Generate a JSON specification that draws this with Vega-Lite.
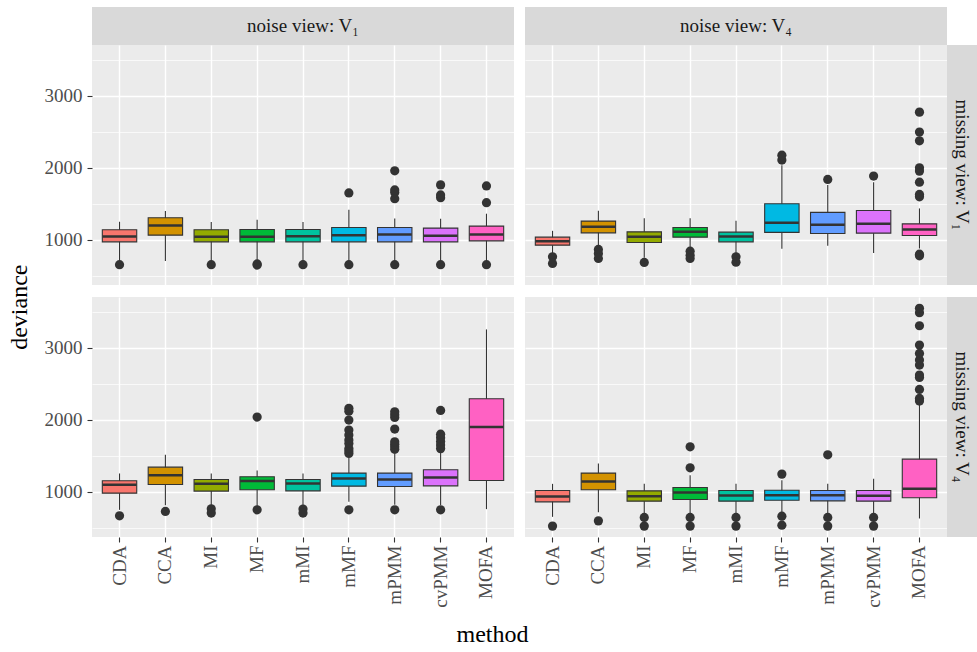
{
"$schema": "https://vega.github.io/schema/vega-lite/v6.json",
"padding": {"left": 8, "top": 7, "right": 0, "bottom": 5},
"background": "white",
"datasets": {
"boxes": [
{"noise":"V1","missing":"V1","method":"CDA","wlo":700,"q1":972,"med":1046,"q3":1140,"whi":1251},
{"noise":"V1","missing":"V1","method":"CCA","wlo":707,"q1":1065,"med":1200,"q3":1307,"whi":1400},
{"noise":"V1","missing":"V1","method":"MI","wlo":700,"q1":972,"med":1042,"q3":1140,"whi":1247},
{"noise":"V1","missing":"V1","method":"MF","wlo":700,"q1":972,"med":1042,"q3":1144,"whi":1279},
{"noise":"V1","missing":"V1","method":"mMI","wlo":700,"q1":972,"med":1051,"q3":1144,"whi":1247},
{"noise":"V1","missing":"V1","method":"mMF","wlo":700,"q1":972,"med":1065,"q3":1172,"whi":1418},
{"noise":"V1","missing":"V1","method":"mPMM","wlo":700,"q1":972,"med":1074,"q3":1172,"whi":1297},
{"noise":"V1","missing":"V1","method":"cvPMM","wlo":700,"q1":972,"med":1056,"q3":1163,"whi":1293},
{"noise":"V1","missing":"V1","method":"MOFA","wlo":700,"q1":986,"med":1074,"q3":1191,"whi":1363},
{"noise":"V4","missing":"V1","method":"CDA","wlo":810,"q1":926,"med":982,"q3":1037,"whi":1125},
{"noise":"V4","missing":"V1","method":"CCA","wlo":900,"q1":1097,"med":1181,"q3":1260,"whi":1403},
{"noise":"V4","missing":"V1","method":"MI","wlo":750,"q1":964,"med":1042,"q3":1111,"whi":1301},
{"noise":"V4","missing":"V1","method":"MF","wlo":880,"q1":1037,"med":1111,"q3":1172,"whi":1301},
{"noise":"V4","missing":"V1","method":"mMI","wlo":810,"q1":972,"med":1047,"q3":1107,"whi":1264},
{"noise":"V4","missing":"V1","method":"mMF","wlo":875,"q1":1103,"med":1236,"q3":1500,"whi":2037},
{"noise":"V4","missing":"V1","method":"mPMM","wlo":917,"q1":1089,"med":1208,"q3":1381,"whi":1760},
{"noise":"V4","missing":"V1","method":"cvPMM","wlo":819,"q1":1093,"med":1222,"q3":1408,"whi":1801},
{"noise":"V4","missing":"V1","method":"MOFA","wlo":880,"q1":1061,"med":1144,"q3":1222,"whi":1436},
{"noise":"V1","missing":"V4","method":"CDA","wlo":750,"q1":982,"med":1098,"q3":1153,"whi":1255},
{"noise":"V1","missing":"V4","method":"CCA","wlo":815,"q1":1102,"med":1232,"q3":1343,"whi":1514},
{"noise":"V1","missing":"V4","method":"MI","wlo":815,"q1":1010,"med":1111,"q3":1172,"whi":1255},
{"noise":"V1","missing":"V4","method":"MF","wlo":800,"q1":1028,"med":1149,"q3":1209,"whi":1297},
{"noise":"V1","missing":"V4","method":"mMI","wlo":815,"q1":1014,"med":1116,"q3":1172,"whi":1255},
{"noise":"V1","missing":"V4","method":"mMF","wlo":861,"q1":1079,"med":1186,"q3":1260,"whi":1478},
{"noise":"V1","missing":"V4","method":"mPMM","wlo":820,"q1":1075,"med":1172,"q3":1260,"whi":1530},
{"noise":"V1","missing":"V4","method":"cvPMM","wlo":815,"q1":1083,"med":1200,"q3":1306,"whi":1540},
{"noise":"V1","missing":"V4","method":"MOFA","wlo":760,"q1":1158,"med":1899,"q3":2292,"whi":3255},
{"noise":"V4","missing":"V4","method":"CDA","wlo":653,"q1":861,"med":936,"q3":1019,"whi":1111},
{"noise":"V4","missing":"V4","method":"CCA","wlo":718,"q1":1028,"med":1144,"q3":1260,"whi":1394},
{"noise":"V4","missing":"V4","method":"MI","wlo":700,"q1":871,"med":940,"q3":1014,"whi":1111},
{"noise":"V4","missing":"V4","method":"MF","wlo":700,"q1":894,"med":991,"q3":1061,"whi":1232},
{"noise":"V4","missing":"V4","method":"mMI","wlo":700,"q1":871,"med":949,"q3":1019,"whi":1111},
{"noise":"V4","missing":"V4","method":"mMF","wlo":700,"q1":884,"med":954,"q3":1023,"whi":1162},
{"noise":"V4","missing":"V4","method":"mPMM","wlo":700,"q1":875,"med":954,"q3":1019,"whi":1111},
{"noise":"V4","missing":"V4","method":"cvPMM","wlo":700,"q1":871,"med":944,"q3":1019,"whi":1181},
{"noise":"V4","missing":"V4","method":"MOFA","wlo":630,"q1":917,"med":1042,"q3":1454,"whi":2228}
],
"outliers": [
{"noise":"V1","missing":"V1","method":"CDA","value":655},
{"noise":"V1","missing":"V1","method":"MI","value":655},
{"noise":"V1","missing":"V1","method":"MF","value":650},
{"noise":"V1","missing":"V1","method":"MF","value":665},
{"noise":"V1","missing":"V1","method":"mMI","value":655},
{"noise":"V1","missing":"V1","method":"mMF","value":655},
{"noise":"V1","missing":"V1","method":"mMF","value":1651},
{"noise":"V1","missing":"V1","method":"mPMM","value":655},
{"noise":"V1","missing":"V1","method":"mPMM","value":1572},
{"noise":"V1","missing":"V1","method":"mPMM","value":1656},
{"noise":"V1","missing":"V1","method":"mPMM","value":1693},
{"noise":"V1","missing":"V1","method":"mPMM","value":1958},
{"noise":"V1","missing":"V1","method":"cvPMM","value":655},
{"noise":"V1","missing":"V1","method":"cvPMM","value":1586},
{"noise":"V1","missing":"V1","method":"cvPMM","value":1623},
{"noise":"V1","missing":"V1","method":"cvPMM","value":1763},
{"noise":"V1","missing":"V1","method":"MOFA","value":655},
{"noise":"V1","missing":"V1","method":"MOFA","value":1516},
{"noise":"V1","missing":"V1","method":"MOFA","value":1749},
{"noise":"V4","missing":"V1","method":"CDA","value":764},
{"noise":"V4","missing":"V1","method":"CDA","value":672},
{"noise":"V4","missing":"V1","method":"CCA","value":867},
{"noise":"V4","missing":"V1","method":"CCA","value":811},
{"noise":"V4","missing":"V1","method":"CCA","value":742},
{"noise":"V4","missing":"V1","method":"MI","value":686},
{"noise":"V4","missing":"V1","method":"MF","value":843},
{"noise":"V4","missing":"V1","method":"MF","value":787},
{"noise":"V4","missing":"V1","method":"MF","value":742},
{"noise":"V4","missing":"V1","method":"mMI","value":764},
{"noise":"V4","missing":"V1","method":"mMI","value":690},
{"noise":"V4","missing":"V1","method":"mMF","value":2107},
{"noise":"V4","missing":"V1","method":"mMF","value":2175},
{"noise":"V4","missing":"V1","method":"mPMM","value":1839},
{"noise":"V4","missing":"V1","method":"cvPMM","value":1885},
{"noise":"V4","missing":"V1","method":"MOFA","value":801},
{"noise":"V4","missing":"V1","method":"MOFA","value":778},
{"noise":"V4","missing":"V1","method":"MOFA","value":1597},
{"noise":"V4","missing":"V1","method":"MOFA","value":1631},
{"noise":"V4","missing":"V1","method":"MOFA","value":1801},
{"noise":"V4","missing":"V1","method":"MOFA","value":1954},
{"noise":"V4","missing":"V1","method":"MOFA","value":2000},
{"noise":"V4","missing":"V1","method":"MOFA","value":2375},
{"noise":"V4","missing":"V1","method":"MOFA","value":2496},
{"noise":"V4","missing":"V1","method":"MOFA","value":2773},
{"noise":"V1","missing":"V4","method":"CDA","value":667},
{"noise":"V1","missing":"V4","method":"CCA","value":728},
{"noise":"V1","missing":"V4","method":"MI","value":765},
{"noise":"V1","missing":"V4","method":"MI","value":705},
{"noise":"V1","missing":"V4","method":"MF","value":2038},
{"noise":"V1","missing":"V4","method":"MF","value":750},
{"noise":"V1","missing":"V4","method":"mMI","value":760},
{"noise":"V1","missing":"V4","method":"mMI","value":705},
{"noise":"V1","missing":"V4","method":"mMF","value":750},
{"noise":"V1","missing":"V4","method":"mMF","value":1533},
{"noise":"V1","missing":"V4","method":"mMF","value":1568},
{"noise":"V1","missing":"V4","method":"mMF","value":1603},
{"noise":"V1","missing":"V4","method":"mMF","value":1672},
{"noise":"V1","missing":"V4","method":"mMF","value":1720},
{"noise":"V1","missing":"V4","method":"mMF","value":1788},
{"noise":"V1","missing":"V4","method":"mMF","value":1857},
{"noise":"V1","missing":"V4","method":"mMF","value":1996},
{"noise":"V1","missing":"V4","method":"mMF","value":2120},
{"noise":"V1","missing":"V4","method":"mMF","value":2160},
{"noise":"V1","missing":"V4","method":"mPMM","value":750},
{"noise":"V1","missing":"V4","method":"mPMM","value":1590},
{"noise":"V1","missing":"V4","method":"mPMM","value":1625},
{"noise":"V1","missing":"V4","method":"mPMM","value":1660},
{"noise":"V1","missing":"V4","method":"mPMM","value":1695},
{"noise":"V1","missing":"V4","method":"mPMM","value":1871},
{"noise":"V1","missing":"V4","method":"mPMM","value":2033},
{"noise":"V1","missing":"V4","method":"mPMM","value":2070},
{"noise":"V1","missing":"V4","method":"mPMM","value":2111},
{"noise":"V1","missing":"V4","method":"cvPMM","value":750},
{"noise":"V1","missing":"V4","method":"cvPMM","value":1600},
{"noise":"V1","missing":"V4","method":"cvPMM","value":1650},
{"noise":"V1","missing":"V4","method":"cvPMM","value":1700},
{"noise":"V1","missing":"V4","method":"cvPMM","value":1750},
{"noise":"V1","missing":"V4","method":"cvPMM","value":1800},
{"noise":"V1","missing":"V4","method":"cvPMM","value":2130},
{"noise":"V4","missing":"V4","method":"CDA","value":524},
{"noise":"V4","missing":"V4","method":"CCA","value":597},
{"noise":"V4","missing":"V4","method":"MI","value":644},
{"noise":"V4","missing":"V4","method":"MI","value":524},
{"noise":"V4","missing":"V4","method":"MF","value":1625},
{"noise":"V4","missing":"V4","method":"MF","value":1333},
{"noise":"V4","missing":"V4","method":"MF","value":644},
{"noise":"V4","missing":"V4","method":"MF","value":524},
{"noise":"V4","missing":"V4","method":"mMI","value":644},
{"noise":"V4","missing":"V4","method":"mMI","value":524},
{"noise":"V4","missing":"V4","method":"mMF","value":1246},
{"noise":"V4","missing":"V4","method":"mMF","value":662},
{"noise":"V4","missing":"V4","method":"mMF","value":537},
{"noise":"V4","missing":"V4","method":"mPMM","value":1514},
{"noise":"V4","missing":"V4","method":"mPMM","value":644},
{"noise":"V4","missing":"V4","method":"mPMM","value":524},
{"noise":"V4","missing":"V4","method":"cvPMM","value":644},
{"noise":"V4","missing":"V4","method":"cvPMM","value":524},
{"noise":"V4","missing":"V4","method":"MOFA","value":2260},
{"noise":"V4","missing":"V4","method":"MOFA","value":2297},
{"noise":"V4","missing":"V4","method":"MOFA","value":2422},
{"noise":"V4","missing":"V4","method":"MOFA","value":2589},
{"noise":"V4","missing":"V4","method":"MOFA","value":2621},
{"noise":"V4","missing":"V4","method":"MOFA","value":2760},
{"noise":"V4","missing":"V4","method":"MOFA","value":2829},
{"noise":"V4","missing":"V4","method":"MOFA","value":2922},
{"noise":"V4","missing":"V4","method":"MOFA","value":3038},
{"noise":"V4","missing":"V4","method":"MOFA","value":3306},
{"noise":"V4","missing":"V4","method":"MOFA","value":3487},
{"noise":"V4","missing":"V4","method":"MOFA","value":3548}
]
},
"title": {"text": "method", "orient": "bottom", "anchor": "middle", "offset": 16},
"vconcat": [
{
"title": {"text": "deviance", "orient": "left", "anchor": "middle", "offset": 12},
"columns": 4,
"spacing": {"row": 0, "column": 0},
"align": "each",
"bounds": "flush",
"concat": [
{"width": 422, "height": 38, "data": {"values": [{"label": "noise view: V₁"}]}, "view": {"fill": "#D9D9D9"}, "mark": {"type": "text", "fontSize": 19, "color": "#1A1A1A", "font": "Liberation Serif"}, "encoding": {"text": {"field": "label"}}},
{"width": 11, "height": 38, "data": {"values": [{}]}, "mark": "text", "encoding": {"text": {"value": ""}}},
{"width": 422, "height": 38, "data": {"values": [{"label": "noise view: V₄"}]}, "view": {"fill": "#D9D9D9"}, "mark": {"type": "text", "fontSize": 19, "color": "#1A1A1A", "font": "Liberation Serif"}, "encoding": {"text": {"field": "label"}}},
{"width": 30, "height": 38, "data": {"values": [{}]}, "mark": "text", "encoding": {"text": {"value": ""}}},

{"width": 422, "height": 240, "view": {"fill": "#EBEBEB"},
 "encoding": {"x": {"field": "method", "type": "nominal", "title": null, "scale": {"type": "band", "domain": ["CDA","CCA","MI","MF","mMI","mMF","mPMM","cvPMM","MOFA"], "paddingInner": 0.25, "paddingOuter": 0.225}, "axis": {"labels": false, "ticks": false, "domain": false, "grid": true, "gridColor": "#FFFFFF", "gridWidth": 1.4, "bandPosition": 0.5}}},
 "resolve": {"axis": {"y": "independent"}},
 "layer": [
  {"data": {"name": "boxes"}, "transform": [{"filter": "datum.noise == 'V1' && datum.missing == 'V1'"}], "mark": {"type": "rule", "color": "#333333", "strokeWidth": 1.1},
   "encoding": {"y": {"field": "wlo", "type": "quantitative", "title": null, "scale": {"domain": [373, 3705], "nice": false, "zero": false}, "axis": {"orient": "left", "values": [500,1500,2500,3500], "labels": false, "ticks": false, "domain": false, "grid": true, "gridColor": "#FFFFFF", "gridWidth": 0.7, "minExtent": 0, "maxExtent": 0}}, "y2": {"field": "whi"}}},
  {"data": {"name": "boxes"}, "transform": [{"filter": "datum.noise == 'V1' && datum.missing == 'V1'"}], "mark": {"type": "bar", "stroke": "#333333", "strokeWidth": 1.1},
   "encoding": {"y": {"field": "q1", "type": "quantitative", "title": null, "axis": {"orient": "left", "values": [1000,2000,3000], "format": "d", "domain": false, "grid": true, "gridColor": "#FFFFFF", "gridWidth": 1.4, "tickSize": 5, "labelPadding": 5}}, "y2": {"field": "q3"}, "fill": {"field": "method", "type": "nominal", "scale": {"domain": ["CDA","CCA","MI","MF","mMI","mMF","mPMM","cvPMM","MOFA"], "range": ["#F8766D","#D39200","#93AA00","#00BA38","#00C19F","#00B9E3","#619CFF","#DB72FB","#FF61C3"]}, "legend": null}}},
  {"data": {"name": "boxes"}, "transform": [{"filter": "datum.noise == 'V1' && datum.missing == 'V1'"}], "mark": {"type": "tick", "color": "#333333", "size": 34, "thickness": 2.5, "opacity": 1},
   "encoding": {"y": {"field": "med", "type": "quantitative", "title": null, "axis": null}}},
  {"data": {"name": "outliers"}, "transform": [{"filter": "datum.noise == 'V1' && datum.missing == 'V1'"}], "mark": {"type": "point", "filled": true, "color": "#333333", "size": 85, "opacity": 1},
   "encoding": {"y": {"field": "value", "type": "quantitative", "title": null, "axis": null}}}
 ]},
{"width": 11, "height": 240, "data": {"values": [{}]}, "mark": "text", "encoding": {"text": {"value": ""}}},
{"width": 422, "height": 240, "view": {"fill": "#EBEBEB"},
 "encoding": {"x": {"field": "method", "type": "nominal", "title": null, "scale": {"type": "band", "domain": ["CDA","CCA","MI","MF","mMI","mMF","mPMM","cvPMM","MOFA"], "paddingInner": 0.25, "paddingOuter": 0.225}, "axis": {"labels": false, "ticks": false, "domain": false, "grid": true, "gridColor": "#FFFFFF", "gridWidth": 1.4, "bandPosition": 0.5}}},
 "resolve": {"axis": {"y": "independent"}},
 "layer": [
  {"data": {"name": "boxes"}, "transform": [{"filter": "datum.noise == 'V4' && datum.missing == 'V1'"}], "mark": {"type": "rule", "color": "#333333", "strokeWidth": 1.1},
   "encoding": {"y": {"field": "wlo", "type": "quantitative", "title": null, "scale": {"domain": [373, 3705], "nice": false, "zero": false}, "axis": {"orient": "left", "values": [500,1500,2500,3500], "labels": false, "ticks": false, "domain": false, "grid": true, "gridColor": "#FFFFFF", "gridWidth": 0.7, "minExtent": 0, "maxExtent": 0}}, "y2": {"field": "whi"}}},
  {"data": {"name": "boxes"}, "transform": [{"filter": "datum.noise == 'V4' && datum.missing == 'V1'"}], "mark": {"type": "bar", "stroke": "#333333", "strokeWidth": 1.1},
   "encoding": {"y": {"field": "q1", "type": "quantitative", "title": null, "axis": {"orient": "left", "values": [1000,2000,3000], "labels": false, "ticks": false, "domain": false, "grid": true, "gridColor": "#FFFFFF", "gridWidth": 1.4, "minExtent": 0, "maxExtent": 0}}, "y2": {"field": "q3"}, "fill": {"field": "method", "type": "nominal", "scale": {"domain": ["CDA","CCA","MI","MF","mMI","mMF","mPMM","cvPMM","MOFA"], "range": ["#F8766D","#D39200","#93AA00","#00BA38","#00C19F","#00B9E3","#619CFF","#DB72FB","#FF61C3"]}, "legend": null}}},
  {"data": {"name": "boxes"}, "transform": [{"filter": "datum.noise == 'V4' && datum.missing == 'V1'"}], "mark": {"type": "tick", "color": "#333333", "size": 34, "thickness": 2.5, "opacity": 1},
   "encoding": {"y": {"field": "med", "type": "quantitative", "title": null, "axis": null}}},
  {"data": {"name": "outliers"}, "transform": [{"filter": "datum.noise == 'V4' && datum.missing == 'V1'"}], "mark": {"type": "point", "filled": true, "color": "#333333", "size": 85, "opacity": 1},
   "encoding": {"y": {"field": "value", "type": "quantitative", "title": null, "axis": null}}}
 ]},
{"width": 30, "height": 240, "data": {"values": [{"label": "missing view: V₁"}]}, "view": {"fill": "#D9D9D9"}, "mark": {"type": "text", "fontSize": 19, "color": "#1A1A1A", "font": "Liberation Serif", "angle": 90}, "encoding": {"text": {"field": "label"}}},

{"width": 422, "height": 12, "data": {"values": [{}]}, "mark": "text", "encoding": {"text": {"value": ""}}},
{"width": 11, "height": 12, "data": {"values": [{}]}, "mark": "text", "encoding": {"text": {"value": ""}}},
{"width": 422, "height": 12, "data": {"values": [{}]}, "mark": "text", "encoding": {"text": {"value": ""}}},
{"width": 30, "height": 12, "data": {"values": [{}]}, "mark": "text", "encoding": {"text": {"value": ""}}},

{"width": 422, "height": 240, "view": {"fill": "#EBEBEB"},
 "encoding": {"x": {"field": "method", "type": "nominal", "title": null, "scale": {"type": "band", "domain": ["CDA","CCA","MI","MF","mMI","mMF","mPMM","cvPMM","MOFA"], "paddingInner": 0.25, "paddingOuter": 0.225}, "axis": {"labelAngle": 270, "domain": false, "grid": true, "gridColor": "#FFFFFF", "gridWidth": 1.4, "bandPosition": 0.5, "tickSize": 5, "labelPadding": 3}}},
 "resolve": {"axis": {"y": "independent"}},
 "layer": [
  {"data": {"name": "boxes"}, "transform": [{"filter": "datum.noise == 'V1' && datum.missing == 'V4'"}], "mark": {"type": "rule", "color": "#333333", "strokeWidth": 1.1},
   "encoding": {"y": {"field": "wlo", "type": "quantitative", "title": null, "scale": {"domain": [373, 3705], "nice": false, "zero": false}, "axis": {"orient": "left", "values": [500,1500,2500,3500], "labels": false, "ticks": false, "domain": false, "grid": true, "gridColor": "#FFFFFF", "gridWidth": 0.7, "minExtent": 0, "maxExtent": 0}}, "y2": {"field": "whi"}}},
  {"data": {"name": "boxes"}, "transform": [{"filter": "datum.noise == 'V1' && datum.missing == 'V4'"}], "mark": {"type": "bar", "stroke": "#333333", "strokeWidth": 1.1},
   "encoding": {"y": {"field": "q1", "type": "quantitative", "title": null, "axis": {"orient": "left", "values": [1000,2000,3000], "format": "d", "domain": false, "grid": true, "gridColor": "#FFFFFF", "gridWidth": 1.4, "tickSize": 5, "labelPadding": 5}}, "y2": {"field": "q3"}, "fill": {"field": "method", "type": "nominal", "scale": {"domain": ["CDA","CCA","MI","MF","mMI","mMF","mPMM","cvPMM","MOFA"], "range": ["#F8766D","#D39200","#93AA00","#00BA38","#00C19F","#00B9E3","#619CFF","#DB72FB","#FF61C3"]}, "legend": null}}},
  {"data": {"name": "boxes"}, "transform": [{"filter": "datum.noise == 'V1' && datum.missing == 'V4'"}], "mark": {"type": "tick", "color": "#333333", "size": 34, "thickness": 2.5, "opacity": 1},
   "encoding": {"y": {"field": "med", "type": "quantitative", "title": null, "axis": null}}},
  {"data": {"name": "outliers"}, "transform": [{"filter": "datum.noise == 'V1' && datum.missing == 'V4'"}], "mark": {"type": "point", "filled": true, "color": "#333333", "size": 85, "opacity": 1},
   "encoding": {"y": {"field": "value", "type": "quantitative", "title": null, "axis": null}}}
 ]},
{"width": 11, "height": 240, "data": {"values": [{}]}, "mark": "text", "encoding": {"text": {"value": ""}}},
{"width": 422, "height": 240, "view": {"fill": "#EBEBEB"},
 "encoding": {"x": {"field": "method", "type": "nominal", "title": null, "scale": {"type": "band", "domain": ["CDA","CCA","MI","MF","mMI","mMF","mPMM","cvPMM","MOFA"], "paddingInner": 0.25, "paddingOuter": 0.225}, "axis": {"labelAngle": 270, "domain": false, "grid": true, "gridColor": "#FFFFFF", "gridWidth": 1.4, "bandPosition": 0.5, "tickSize": 5, "labelPadding": 3}}},
 "resolve": {"axis": {"y": "independent"}},
 "layer": [
  {"data": {"name": "boxes"}, "transform": [{"filter": "datum.noise == 'V4' && datum.missing == 'V4'"}], "mark": {"type": "rule", "color": "#333333", "strokeWidth": 1.1},
   "encoding": {"y": {"field": "wlo", "type": "quantitative", "title": null, "scale": {"domain": [373, 3705], "nice": false, "zero": false}, "axis": {"orient": "left", "values": [500,1500,2500,3500], "labels": false, "ticks": false, "domain": false, "grid": true, "gridColor": "#FFFFFF", "gridWidth": 0.7, "minExtent": 0, "maxExtent": 0}}, "y2": {"field": "whi"}}},
  {"data": {"name": "boxes"}, "transform": [{"filter": "datum.noise == 'V4' && datum.missing == 'V4'"}], "mark": {"type": "bar", "stroke": "#333333", "strokeWidth": 1.1},
   "encoding": {"y": {"field": "q1", "type": "quantitative", "title": null, "axis": {"orient": "left", "values": [1000,2000,3000], "labels": false, "ticks": false, "domain": false, "grid": true, "gridColor": "#FFFFFF", "gridWidth": 1.4, "minExtent": 0, "maxExtent": 0}}, "y2": {"field": "q3"}, "fill": {"field": "method", "type": "nominal", "scale": {"domain": ["CDA","CCA","MI","MF","mMI","mMF","mPMM","cvPMM","MOFA"], "range": ["#F8766D","#D39200","#93AA00","#00BA38","#00C19F","#00B9E3","#619CFF","#DB72FB","#FF61C3"]}, "legend": null}}},
  {"data": {"name": "boxes"}, "transform": [{"filter": "datum.noise == 'V4' && datum.missing == 'V4'"}], "mark": {"type": "tick", "color": "#333333", "size": 34, "thickness": 2.5, "opacity": 1},
   "encoding": {"y": {"field": "med", "type": "quantitative", "title": null, "axis": null}}},
  {"data": {"name": "outliers"}, "transform": [{"filter": "datum.noise == 'V4' && datum.missing == 'V4'"}], "mark": {"type": "point", "filled": true, "color": "#333333", "size": 85, "opacity": 1},
   "encoding": {"y": {"field": "value", "type": "quantitative", "title": null, "axis": null}}}
 ]},
{"width": 30, "height": 240, "data": {"values": [{"label": "missing view: V₄"}]}, "view": {"fill": "#D9D9D9"}, "mark": {"type": "text", "fontSize": 19, "color": "#1A1A1A", "font": "Liberation Serif", "angle": 90}, "encoding": {"text": {"field": "label"}}}
]
}
],
"config": {
 "view": {"stroke": null},
 "font": "Liberation Serif",
 "axis": {"labelFont": "Liberation Serif", "labelFontSize": 19, "labelColor": "#4D4D4D", "tickColor": "#333333", "tickWidth": 1.1, "gridColor": "#FFFFFF"},
 "title": {"font": "Liberation Serif", "fontSize": 24, "fontWeight": "normal", "color": "#000000"},
 "concat": {"spacing": 0}
}
}
